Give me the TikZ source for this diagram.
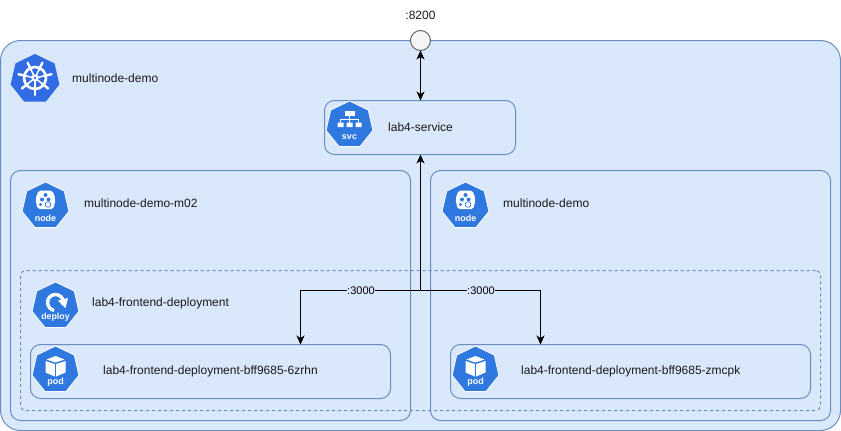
\documentclass[tikz,border=0pt]{standalone}
\usepackage{fontspec}
\setmainfont{Liberation Sans}
\usetikzlibrary{shapes.geometric,arrows.meta}
\definecolor{boxfill}{HTML}{DAE8FC}
\definecolor{boxline}{HTML}{6C8EBF}
\definecolor{kblue}{HTML}{326CE5}
\definecolor{kblue2}{HTML}{2E78E0}
\tikzset{
  box/.style={draw=boxline,fill=boxfill,line width=1pt,rounded corners=#1,inner sep=0pt,outer sep=0pt},
  box/.default=10pt,
  lbl/.style={font=\fontsize{12}{14}\selectfont,text=black!90,anchor=west,inner sep=0pt},
  hept/.style={regular polygon,regular polygon sides=7,minimum size=#1,inner sep=0pt,fill=kblue2,draw=white,line width=0.8pt},
  icontext/.style={font=\fontsize{#1}{#1}\selectfont\bfseries,text=white,inner sep=0pt},
  flow/.style={draw=black,line width=1.1pt,-{Stealth[length=9pt,width=8pt,inset=2.5pt]}},
  both/.style={draw=black,line width=1.1pt,{Stealth[length=9pt,width=8pt,inset=2.5pt]}-{Stealth[length=9pt,width=8pt,inset=2.5pt]}},
  port/.style={fill=boxfill,font=\fontsize{11}{13}\selectfont,inner sep=0.5pt},
  nodeicon/.pic={
    \node[hept=48pt] (-h) at (0,0) {};
    \fill[white,rounded corners=2pt] (-7,-15.5) -- (7,-15.5) -- (10,-7) -- (8,3) -- (-8,3) -- (-10,-7) -- cycle;
    \fill[kblue2] (0,-11) circle (2) (-3.5,-6.5) circle (2) (3,-6.5) circle (2) (-5,-1.5) circle (1.6);
    \draw[kblue2,line width=0.7pt] (2.5,-1.5) circle (2.8);
    \node[icontext=9] (-t) at (0,12) {node};
  },
  podicon/.pic={
    \node[hept=48pt] (-h) at (0,0) {};
    \fill[white] (-10,-9) -- (-0.7,-6) -- (-0.7,6.5) -- (-10,2.5) -- cycle;
    \fill[white] (10,-9) -- (0.7,-6) -- (0.7,6.5) -- (10,2.5) -- cycle;
    \fill[white] (-9,-10.5) -- (0,-14) -- (9,-10.5) -- (0,-7.5) -- cycle;
    \node[icontext=9] (-t) at (0,12) {pod};
  },
  deployicon/.pic={
    \node[hept=48pt] (-h) at (0,0) {};
    \draw[white,line width=3.4pt] (0,-3.5) ++(20:8) arc (20:-260:8);
    \fill[white] (2.5,-5.5) -- (12.5,-8) -- (10,2) -- cycle;
    \node[icontext=8.8] (-t) at (0,11.5) {deploy};
  },
  svcicon/.pic={
    \node[hept=48pt] (-h) at (0,0) {};
    \fill[white] (-5,-14) rectangle (5,-9);
    \fill[white] (-12,-2.5) rectangle (-6,2) (-3,-2.5) rectangle (3,2) (6,-2.5) rectangle (12,2);
    \draw[white,line width=0.8pt] (0,-9) -- (0,-2.5) (-9,-2.5) -- (-9,-5.5) -- (9,-5.5) -- (9,-2.5);
    \node[icontext=9] (-t) at (0,12) {svc};
  },
  wheelicon/.pic={
    \node[hept=50pt,fill=kblue,draw=none] (-h) at (0,0) {};
    \draw[white,line width=2.6pt] (0,-1) circle (11);
    \foreach \a in {90,141.43,192.86,244.29,295.71,347.14,38.57}{
      \draw[white,line width=2.4pt,line cap=round] ([shift={(0,-1)}]\a:9) -- ([shift={(0,-1)}]\a:17);
      \draw[white,line width=1.5pt] (0,-1) -- ([shift={(0,-1)}]\a:11);
    }
    \fill[white] (0,-1) circle (3.6);
    \fill[kblue] (0,-1) circle (1.3);
  }
}
\begin{document}
\begin{tikzpicture}[x=1pt,y=-1pt]
\useasboundingbox (0,0) rectangle (841,431);
\node[box=20pt,minimum width=840pt,minimum height=390pt] (cluster) at (420.5,235.5) {};
\node[box,minimum width=191pt,minimum height=54pt] (service) at (420,127.5) {};
\node[box,minimum width=400pt,minimum height=250pt] (nodeleft) at (210.5,295.5) {};
\node[box,minimum width=400pt,minimum height=250pt] (noderight) at (630.5,295.5) {};
\node[box=5pt,dashed,fill=none,minimum width=800pt,minimum height=140pt] (deploy) at (420.5,340.5) {};
\node[box,minimum width=360pt,minimum height=54pt] (podleft) at (210.5,371.5) {};
\node[box,minimum width=360pt,minimum height=54pt] (podright) at (630.5,371.5) {};
\node[circle,draw=black!60,fill=black!4,line width=1pt,minimum size=20pt,inner sep=0pt,outer sep=0pt] (port) at (420.5,40.5) {};
\node[lbl,anchor=center] (portlabel) at (420.5,15) {:8200};

\coordinate (junction) at (420.5,290.5);
\coordinate (jl) at (300.5,290.5);
\coordinate (jr) at (540.5,290.5);
\draw[both] (port) -- (port |- service.north);
\draw[flow] (junction) -- (junction |- service.south);
\draw[flow] (junction) -- (jl) -- (jl |- podleft.north);
\draw[flow] (junction) -- (jr) -- (jr |- podright.north);
\node[port] (portleft) at (361,290.5) {:3000};
\node[port] (portright) at (481,290.5) {:3000};

\pic (wheel) at (35,79) {wheelicon};
\pic (svc) at (349.5,125) {svcicon};
\pic (nl) at (45.5,206) {nodeicon};
\pic (nr) at (465.5,206) {nodeicon};
\pic (dp) at (55.5,306) {deployicon};
\pic (pl) at (55.5,370) {podicon};
\pic (pr) at (475.5,370) {podicon};

\node[lbl] (t1) at (72,78) {multinode-demo};
\node[lbl] (t2) at (388,127) {lab4-service};
\node[lbl] (t3) at (84,203) {multinode-demo-m02};
\node[lbl] (t4) at (503,203) {multinode-demo};
\node[lbl] (t5) at (92,303) {lab4-frontend-deployment};
\node[lbl] (t6) at (103,371) {lab4-frontend-deployment-bff9685-6zrhn};
\node[lbl] (t7) at (521,371) {lab4-frontend-deployment-bff9685-zmcpk};
\end{tikzpicture}
\end{document}
